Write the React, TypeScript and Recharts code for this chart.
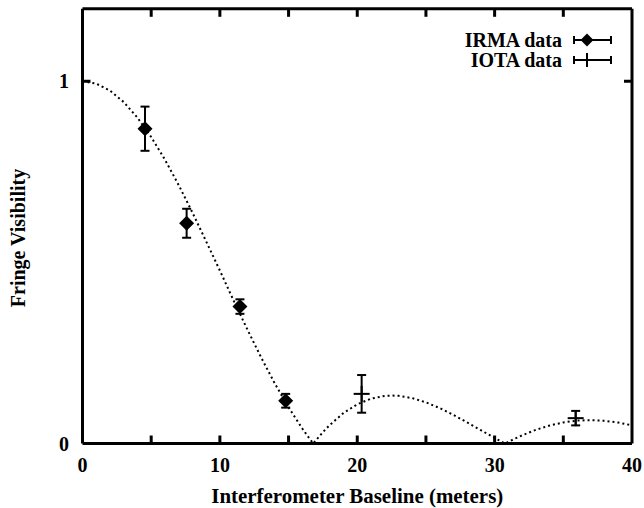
import React from 'react';
import { ComposedChart, Line, Scatter, XAxis, YAxis, ErrorBar, ReferenceLine } from 'recharts';

const FONT = '"Liberation Serif", "Times New Roman", serif';

// Model (uniform-disk) visibility curve
const modelBaseline = [0,1,2,3,4,5,6,7,8,9,10,11,12,13,14,15,16,16.5,16.8,17,17.5,18,19,20,21,22,22.5,23,24,25,26,27,28,29,30,30.5,30.76,31,31.5,32,33,34,35,36,37,38,39,40];
const modelVis = [1,0.9935,0.9742,0.9426,0.8995,0.846,0.7835,0.7135,0.6377,0.558,0.4774,0.3945,0.3148,0.2378,0.1655,0.0997,0.0413,0.0149,0,0.0091,0.0314,0.0511,0.0841,0.1081,0.1238,0.1314,0.1323,0.1315,0.1253,0.1136,0.0978,0.0789,0.0581,0.0366,0.0153,0.0051,0,0.0046,0.0138,0.0225,0.0377,0.0496,0.0582,0.0631,0.0645,0.0626,0.0577,0.0502];

// IRMA data
const irmaBaseline = [4.55, 7.58, 11.46, 14.79];
const irmaVis = [0.869, 0.608, 0.378, 0.118];
const irmaErr = [0.061, 0.04, 0.02, 0.019];

// IOTA data
const iotaBaseline = [20.32, 35.9];
const iotaVis = [0.137, 0.07];
const iotaErr = [0.052, 0.02];

const xDomain = [0, 40];
const yDomain = [0, 1.2];
const xTicks = [0, 5, 10, 15, 20, 25, 30, 35, 40];
const xLabelTicks = [0, 10, 20, 30, 40];
const xInnerTicks = [5, 10, 15, 20, 25, 30, 35];
const yTicks = [0, 1];
const yInnerTicks = [1];

const legendLabels = ['IRMA data', 'IOTA data'];
const xTitle = 'Interferometer Baseline (meters)';
const yTitle = 'Fringe Visibility';

const modelData = modelBaseline.map((x, i) => ({ x, y: modelVis[i] }));
const irmaData = irmaBaseline.map((x, i) => ({ x, y: irmaVis[i], err: irmaErr[i] }));
const iotaData = iotaBaseline.map((x, i) => ({ x, y: iotaVis[i], err: iotaErr[i] }));

// frame + inward tick marks, positioned through the chart scales
const topFrame = [{ x: xDomain[0], y: yDomain[1] }, { x: xDomain[1], y: yDomain[1] }];
const tickMarks = [
  ...xInnerTicks.map((x) => ({ x, y: yDomain[0], dir: 'up' })),
  ...xInnerTicks.map((x) => ({ x, y: yDomain[1], dir: 'down' })),
  ...yInnerTicks.map((y) => ({ x: xDomain[0], y, dir: 'right' })),
  ...yInnerTicks.map((y) => ({ x: xDomain[1], y, dir: 'left' })),
];

const TICK_LEN = 8;
const textStyle = { fontFamily: FONT, fontWeight: 'bold' as const, fontSize: 20, fill: '#000' };

const BottomTick = (props: any) => {
  const { x, y, payload } = props;
  const v = payload.value;
  if (!xLabelTicks.includes(v)) return <g />;
  return <text x={x} y={y + 28.5} textAnchor="middle" style={textStyle}>{v}</text>;
};

const LeftTick = (props: any) => {
  const { x, y, payload } = props;
  return <text x={x - 13.5} y={y + 7} textAnchor="end" style={textStyle}>{payload.value}</text>;
};

const TickMark = (props: any) => {
  const { cx, cy } = props;
  const dir = (props.payload && props.payload.dir) || props.dir;
  let dx = 0;
  let dy = 0;
  if (dir === 'up') dy = -TICK_LEN;
  else if (dir === 'down') dy = TICK_LEN;
  else if (dir === 'right') dx = TICK_LEN;
  else dx = -TICK_LEN;
  return <line x1={cx} y1={cy} x2={cx + dx} y2={cy + dy} stroke="#000" strokeWidth={3} />;
};

const Diamond = (props: any) => {
  const { cx, cy } = props;
  const s = 7.5;
  return <polygon points={`${cx},${cy - s} ${cx + s},${cy} ${cx},${cy + s} ${cx - s},${cy}`} fill="#000" />;
};

const Plus = (props: any) => {
  const { cx, cy } = props;
  const s = 8;
  return (
    <g stroke="#000" strokeWidth={2}>
      <line x1={cx - s} x2={cx + s} y1={cy} y2={cy} />
      <line x1={cx} x2={cx} y1={cy - s} y2={cy + s} />
    </g>
  );
};

// legend and axis titles, drawn as real SVG text over the chart
const Overlay = () => {
  const lx = 448;
  const ly = 28;
  return (
    <svg
      width={644}
      height={508}
      style={{ position: 'absolute', left: 0, top: 0, pointerEvents: 'none', overflow: 'visible' }}
    >
      <text x={357.25} y={503} textAnchor="middle" textLength={292} lengthAdjust="spacingAndGlyphs" style={textStyle}>
        {xTitle}
      </text>
      <text x={25} y={238} textAnchor="middle" transform="rotate(-90 25 238)" style={textStyle}>
        {yTitle}
      </text>
      {legendLabels.map((label, i) => {
        const cy = ly + 12 + i * 20;
        return (
          <g key={label}>
            <text x={lx + 114} y={cy + 7} textAnchor="end" style={textStyle}>{label}</text>
            <g stroke="#000" strokeWidth={2}>
              <line x1={lx + 126} x2={lx + 163} y1={cy} y2={cy} />
              <line x1={lx + 126} x2={lx + 126} y1={cy - 4} y2={cy + 4} />
              <line x1={lx + 163} x2={lx + 163} y1={cy - 4} y2={cy + 4} />
              {i === 1 && <line x1={lx + 139} x2={lx + 139} y1={cy - 7} y2={cy + 7} />}
            </g>
            {i === 0 && (
              <polygon
                points={`${lx + 139},${cy - 6.5} ${lx + 145.5},${cy} ${lx + 139},${cy + 6.5} ${lx + 132.5},${cy}`}
                fill="#000"
              />
            )}
          </g>
        );
      })}
    </svg>
  );
};

const axisLine = { stroke: '#000', strokeWidth: 3 };

export default function App() {
  return (
    <div style={{ position: 'absolute', left: 0, top: 0, width: 644, height: 508, overflow: 'hidden' }}>
      <ComposedChart width={644} height={508} margin={{ top: 8.8, right: 12, bottom: 0, left: 0.5 }}>
        <XAxis type="number" dataKey="x" domain={xDomain} ticks={xTicks} interval={0} height={64.5}
          axisLine={axisLine} tickLine={false} tickSize={0} tickMargin={0} tick={BottomTick} />
        <YAxis type="number" dataKey="y" domain={yDomain} ticks={yTicks} interval={0} width={82}
          axisLine={axisLine} tickLine={false} tickSize={0} tickMargin={0} tick={LeftTick} />
        <Line data={modelData} dataKey="y" type="linear" stroke="#000" strokeWidth={2} strokeDasharray="2 3"
          dot={false} activeDot={false} isAnimationActive={false} />
        <Scatter data={irmaData} dataKey="y" shape={Diamond} isAnimationActive={false} name="IRMA data">
          <ErrorBar dataKey="err" direction="y" width={4.5} stroke="#000" strokeWidth={2} isAnimationActive={false} />
        </Scatter>
        <Scatter data={iotaData} dataKey="y" shape={Plus} isAnimationActive={false} name="IOTA data">
          <ErrorBar dataKey="err" direction="y" width={4.5} stroke="#000" strokeWidth={2} isAnimationActive={false} />
        </Scatter>
        <ReferenceLine x={xDomain[1]} stroke="#000" strokeWidth={3} />
        <Scatter data={tickMarks} dataKey="y" shape={TickMark} isAnimationActive={false} />
        <Line data={topFrame} dataKey="y" stroke="#000" strokeWidth={3} dot={false} isAnimationActive={false} />
      </ComposedChart>
      <Overlay />
    </div>
  );
}
